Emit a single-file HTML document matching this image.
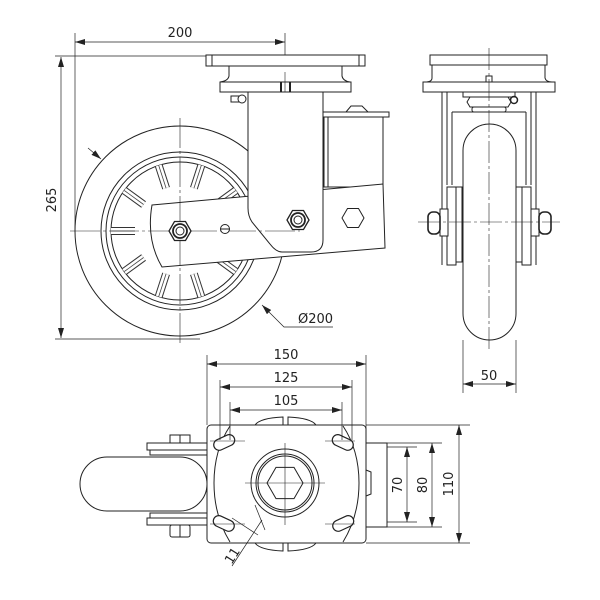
<!DOCTYPE html>
<html><head><meta charset="utf-8"><style>
html,body{margin:0;padding:0;background:#fff}
svg{display:block}
text{font-family:"DejaVu Sans","Liberation Sans",sans-serif;font-size:13px;fill:#222}
</style></head><body>
<svg width="600" height="600" viewBox="0 0 600 600" xmlns="http://www.w3.org/2000/svg">
<defs>
<marker id="a" markerWidth="10" markerHeight="6" refX="10" refY="3" orient="auto-start-reverse" markerUnits="userSpaceOnUse"><path d="M0,0 L10,3 L0,6 z" fill="#222"/></marker>
</defs>
<g fill="none" stroke="#222" stroke-width="1">
<!-- ===== SIDE VIEW ===== -->
<line x1="75" y1="33" x2="75" y2="232" stroke-width="0.7"/>
<line x1="285" y1="33" x2="285" y2="72" stroke-width="0.7"/>
<line x1="75" y1="42" x2="285" y2="42" stroke-width="0.7" marker-start="url(#a)" marker-end="url(#a)"/>
<line x1="55" y1="56" x2="300" y2="56" stroke-width="0.7"/>
<line x1="55" y1="339" x2="200" y2="339" stroke-width="0.7"/>
<line x1="61" y1="57" x2="61" y2="338" stroke-width="0.7" marker-start="url(#a)" marker-end="url(#a)"/>
<!-- wheel -->
<circle cx="180" cy="231" r="105"/>
<circle cx="180" cy="231" r="79"/>
<circle cx="180" cy="231" r="74"/>
<circle cx="180" cy="231" r="69"/>
<g stroke-width="8" stroke="#333">
<line x1="135" y1="231" x2="111" y2="231"/>
<line x1="143.6" y1="204.5" x2="124.2" y2="190.4"/>
<line x1="166.1" y1="188.2" x2="158.7" y2="165.4"/>
<line x1="193.9" y1="188.2" x2="201.3" y2="165.4"/>
<line x1="216.4" y1="204.5" x2="235.8" y2="190.4"/>
<line x1="216.4" y1="257.5" x2="235.8" y2="271.6"/>
<line x1="193.9" y1="273.8" x2="201.3" y2="296.6"/>
<line x1="166.1" y1="273.8" x2="158.7" y2="296.6"/>
<line x1="143.6" y1="257.5" x2="124.2" y2="271.6"/>
</g>
<g stroke-width="6" stroke="#fff">
<line x1="135" y1="231" x2="111" y2="231"/>
<line x1="143.6" y1="204.5" x2="124.2" y2="190.4"/>
<line x1="166.1" y1="188.2" x2="158.7" y2="165.4"/>
<line x1="193.9" y1="188.2" x2="201.3" y2="165.4"/>
<line x1="216.4" y1="204.5" x2="235.8" y2="190.4"/>
<line x1="216.4" y1="257.5" x2="235.8" y2="271.6"/>
<line x1="193.9" y1="273.8" x2="201.3" y2="296.6"/>
<line x1="166.1" y1="273.8" x2="158.7" y2="296.6"/>
<line x1="143.6" y1="257.5" x2="124.2" y2="271.6"/>
</g>
<g stroke-width="0.8" stroke="#444">
<line x1="135" y1="231" x2="111" y2="231"/>
<line x1="143.6" y1="204.5" x2="124.2" y2="190.4"/>
<line x1="166.1" y1="188.2" x2="158.7" y2="165.4"/>
<line x1="193.9" y1="188.2" x2="201.3" y2="165.4"/>
<line x1="216.4" y1="204.5" x2="235.8" y2="190.4"/>
<line x1="216.4" y1="257.5" x2="235.8" y2="271.6"/>
<line x1="193.9" y1="273.8" x2="201.3" y2="296.6"/>
<line x1="166.1" y1="273.8" x2="158.7" y2="296.6"/>
<line x1="143.6" y1="257.5" x2="124.2" y2="271.6"/>
</g>
<!-- top plate -->
<rect x="206" y="55" width="159" height="11" fill="#fff"/>
<line x1="212" y1="55" x2="212" y2="66"/><line x1="359" y1="55" x2="359" y2="66"/>
<path d="M229,66 L342,66 L342,76 Q343,81 350,82 L220,82 Q228,81 229,76 Z" fill="#fff"/>
<rect x="220" y="82" width="131" height="10" fill="#fff"/>
<line x1="281" y1="82" x2="281" y2="92" stroke-width="2"/><line x1="290" y1="82" x2="290" y2="92" stroke-width="2"/>
<rect x="231" y="96" width="8" height="6" fill="#fff"/><circle cx="242" cy="99" r="4" fill="#fff"/>
<!-- right box -->
<path d="M346,112 L351,106 L362,106 L368,112" fill="#fff"/>
<rect x="322" y="112" width="67" height="5" fill="#fff"/>
<rect x="324" y="117" width="59" height="70" fill="#fff"/>
<line x1="328" y1="117" x2="328" y2="187"/>
<!-- swing arm -->
<path d="M152,205 L383,184 L385,248 L162,267 Q146,240 152,205 Z" fill="#fff"/>
<!-- fork vertical -->
<path d="M248,92 L323,92 L323,240 Q323,252 311,252 L282,252 Q276,252 270,244 L252,222 Q248,216 248,208 Z" fill="#fff"/>
<line x1="70" y1="231" x2="300" y2="231" stroke-width="0.6" stroke-dasharray="30,3,3,3"/>
<line x1="180" y1="118" x2="180" y2="345" stroke-width="0.6" stroke-dasharray="30,3,3,3"/>
<line x1="285" y1="72" x2="285" y2="92" stroke-width="0.6"/>
<polygon points="191,231 185.5,240.5 174.5,240.5 169,231 174.5,221.5 185.5,221.5" fill="#fff" stroke-width="1.3"/>
<circle cx="180" cy="231" r="7" stroke-width="1.8"/><circle cx="180" cy="231" r="4"/>
<polygon points="309,220 303.5,229.5 292.5,229.5 287,220 292.5,210.5 303.5,210.5" fill="#fff" stroke-width="1.3"/>
<circle cx="298" cy="220" r="7" stroke-width="1.8"/><circle cx="298" cy="220" r="4"/>
<polygon points="364,218 358.5,227.5 347.5,227.5 342,218 347.5,208.5 358.5,208.5" fill="#fff"/>
<circle cx="225" cy="229" r="4.5" fill="#fff"/><line x1="220" y1="229" x2="230" y2="229"/>
<line x1="88" y1="148" x2="101" y2="159" stroke-width="0.7" marker-end="url(#a)"/>
<polyline points="333,327 284,327 262,305" stroke-width="0.7" marker-end="url(#a)"/>

<!-- ===== FRONT VIEW ===== -->
<rect x="430" y="55" width="117" height="10" fill="#fff"/>
<path d="M432,65 L545,65 L545,78 Q546,82 552,82 L425,82 Q432,82 432,78 Z" fill="#fff"/>
<rect x="423" y="82" width="132" height="10" fill="#fff"/>
<rect x="486" y="76" width="6" height="6"/>
<line x1="442" y1="92" x2="442" y2="265"/><line x1="447" y1="92" x2="447" y2="185"/><line x1="452" y1="112" x2="452" y2="185"/>
<line x1="536" y1="92" x2="536" y2="265"/><line x1="531" y1="92" x2="531" y2="185"/><line x1="526" y1="112" x2="526" y2="185"/>
<line x1="452" y1="112" x2="526" y2="112"/>
<rect x="463" y="92" width="52" height="5"/>
<path d="M470,97 L508,97 L511,102 L508,107 L470,107 L467,102 Z" fill="#fff"/>
<rect x="472" y="107" width="34" height="5" rx="2"/>
<circle cx="514" cy="100" r="3.5" stroke-width="1.5"/>
<rect x="463" y="124" width="53" height="216" rx="26.5" fill="#fff"/>
<rect x="447" y="187" width="9" height="78" fill="#fff"/><rect x="456" y="187" width="6" height="75" fill="#fff"/>
<rect x="522" y="187" width="9" height="78" fill="#fff"/><rect x="516" y="187" width="6" height="75" fill="#fff"/>
<rect x="440" y="209" width="8" height="27" fill="#fff"/><rect x="531" y="209" width="8" height="27" fill="#fff"/>
<rect x="428" y="212" width="12" height="22" rx="5" fill="#fff" stroke-width="1.6"/>
<rect x="539" y="212" width="12" height="22" rx="5" fill="#fff" stroke-width="1.6"/>
<line x1="489" y1="48" x2="489" y2="350" stroke-width="0.6" stroke-dasharray="22,3,3,3"/>
<line x1="418" y1="222" x2="560" y2="222" stroke-width="0.6" stroke-dasharray="22,3,3,3"/>
<line x1="463" y1="340" x2="463" y2="393" stroke-width="0.7"/><line x1="516" y1="340" x2="516" y2="393" stroke-width="0.7"/>
<line x1="463" y1="384" x2="516" y2="384" stroke-width="0.7" marker-start="url(#a)" marker-end="url(#a)"/>

<!-- ===== TOP VIEW ===== -->
<path d="M255,425 Q260,418 283,417 L283,425 M288,425 L288,417 Q311,418 316,425" />
<path d="M255,543 Q260,550 283,551 L283,543 M288,543 L288,551 Q311,550 316,543" />
<rect x="80" y="457" width="127" height="54" rx="27" fill="#fff"/>
<rect x="147" y="443" width="60" height="7" fill="#fff"/><rect x="150" y="450" width="57" height="5" fill="#fff"/>
<rect x="147" y="518" width="60" height="7" fill="#fff"/><rect x="150" y="513" width="57" height="5" fill="#fff"/>
<rect x="170" y="435" width="20" height="8" fill="#fff"/><line x1="180" y1="435" x2="180" y2="443"/>
<rect x="170" y="525" width="20" height="12" rx="2" fill="#fff"/><line x1="180" y1="525" x2="180" y2="537"/>
<rect x="366" y="443" width="21" height="84" fill="#fff"/>
<path d="M366,470 L371,472 L371,494 L366,496"/>
<rect x="207" y="425" width="159" height="118" rx="4" fill="#fff"/>
<path d="M230,426 Q214,450 214,483 Q214,516 230,542 M343,426 Q359,450 359,483 Q359,516 343,542"/>
<g stroke-width="1.2">
<rect x="213" y="437" width="22" height="11" rx="5.5" transform="rotate(-25 224 442)" fill="#fff"/>
<rect x="332" y="437" width="22" height="11" rx="5.5" transform="rotate(25 343 442)" fill="#fff"/>
<rect x="213" y="518" width="22" height="11" rx="5.5" transform="rotate(25 224 523)" fill="#fff"/>
<rect x="332" y="518" width="22" height="11" rx="5.5" transform="rotate(-25 343 523)" fill="#fff"/>
</g>
<g stroke-width="0.6"><line x1="210" y1="441" x2="245" y2="441"/><line x1="325" y1="441" x2="355" y2="441"/><line x1="210" y1="524" x2="245" y2="524"/><line x1="325" y1="524" x2="355" y2="524"/></g>
<circle cx="285" cy="483" r="34"/><circle cx="285" cy="483" r="29"/><circle cx="285" cy="483" r="27"/>
<polygon points="303,483 294,498.6 276,498.6 267,483 276,467.4 294,467.4"/>
<line x1="245" y1="483" x2="325" y2="483" stroke-width="0.6"/><line x1="285" y1="443" x2="285" y2="525" stroke-width="0.6"/>
<g stroke-width="0.7">
<line x1="207" y1="355" x2="207" y2="425"/><line x1="366" y1="355" x2="366" y2="440"/>
<line x1="220" y1="380" x2="220" y2="440"/><line x1="352" y1="380" x2="352" y2="440"/>
<line x1="230" y1="402" x2="230" y2="440"/><line x1="342" y1="402" x2="342" y2="440"/>
<line x1="207" y1="364" x2="366" y2="364" marker-start="url(#a)" marker-end="url(#a)"/>
<line x1="220" y1="387" x2="352" y2="387" marker-start="url(#a)" marker-end="url(#a)"/>
<line x1="230" y1="410" x2="342" y2="410" marker-start="url(#a)" marker-end="url(#a)"/>
<line x1="366" y1="425" x2="470" y2="425"/><line x1="366" y1="543" x2="470" y2="543"/>
<line x1="387" y1="443" x2="442" y2="443"/><line x1="387" y1="527" x2="442" y2="527"/>
<line x1="387" y1="447" x2="417" y2="447"/><line x1="387" y1="522" x2="417" y2="522"/>
<line x1="407" y1="447" x2="407" y2="522" marker-start="url(#a)" marker-end="url(#a)"/>
<line x1="432" y1="443" x2="432" y2="527" marker-start="url(#a)" marker-end="url(#a)"/>
<line x1="459" y1="425" x2="459" y2="543" marker-start="url(#a)" marker-end="url(#a)"/>
<line x1="232" y1="518" x2="258" y2="535"/><line x1="255" y1="505" x2="265" y2="530"/>
<line x1="262" y1="520" x2="232" y2="566"/>
</g>
</g>
<g>
<text x="180" y="37" text-anchor="middle">200</text>
<text x="0" y="0" text-anchor="middle" transform="translate(56,200) rotate(-90)">265</text>
<text x="298" y="323">Ø200</text>
<text x="489" y="380" text-anchor="middle">50</text>
<text x="286" y="359" text-anchor="middle">150</text>
<text x="286" y="382" text-anchor="middle">125</text>
<text x="286" y="405" text-anchor="middle">105</text>
<text x="0" y="0" text-anchor="middle" transform="translate(402,485) rotate(-90)">70</text>
<text x="0" y="0" text-anchor="middle" transform="translate(427,485) rotate(-90)">80</text>
<text x="0" y="0" text-anchor="middle" transform="translate(453,484) rotate(-90)">110</text>
<text x="0" y="0" text-anchor="middle" transform="translate(236,558) rotate(-58)">11</text>
</g>
</svg>
</body></html>
